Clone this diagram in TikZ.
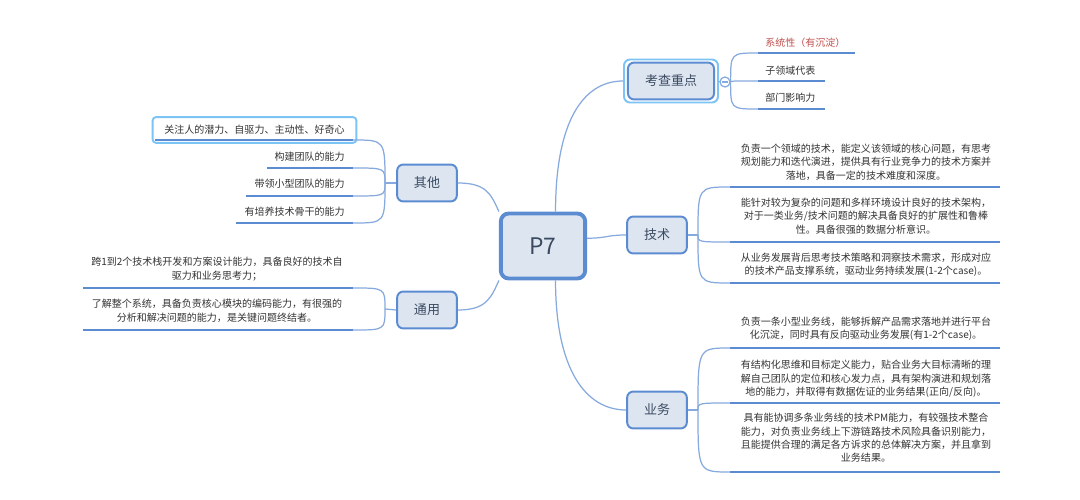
\documentclass[tikz,border=0pt]{standalone}
\usepackage{fontspec}
\usepackage{tikz}
\usetikzlibrary{calc}
\newfontfamily\cjk{Noto Sans CJK SC}
\definecolor{BoxFill}{HTML}{DDE5F1}
\definecolor{BoxLine}{HTML}{5B8BD1}
\definecolor{SelLine}{HTML}{7CC4F6}
\definecolor{LinkBlue}{HTML}{86A9DE}
\definecolor{InkGray}{HTML}{333333}
\definecolor{TopicInk}{HTML}{3A4A60}
\definecolor{NoteRed}{HTML}{C0504D}
\tikzset{
  root/.style={draw=BoxLine, line width=2.2pt, fill=BoxFill, rounded corners=4.5pt, minimum width=48pt, minimum height=37pt, font=\cjk\fontsize{13}{15}\selectfont, text=TopicInk},
  topic/.style={draw=BoxLine, line width=1.1pt, fill=BoxFill, rounded corners=3.5pt, minimum width=34pt, minimum height=21pt, font=\cjk\fontsize{7.4}{9}\selectfont, text=TopicInk},
  selbox/.style={draw=SelLine, line width=1.1pt, rounded corners=3.5pt, minimum width=53.5pt, minimum height=24.5pt},
  leaf/.style={font=\cjk\fontsize{5.7}{7.65}\selectfont, text=InkGray, align=center, inner sep=0pt},
  uline/.style={draw=BoxLine, line width=1.6pt},
  link/.style={draw=LinkBlue, line width=0.7pt}
}
\begin{document}
\begin{tikzpicture}[x=0.02cm, y=-0.02cm]
    \fill[white] (0,0) rectangle (1080,500);
    \useasboundingbox (0,0) rectangle (1080,500);

    % main topics
    \node (p7) [root] at (543,246) {P7};
    \node (kcsel) [selbox] at (671,81) {};
    \node (kczd) [topic, minimum width=49pt] at (671,81) {考查重点};
    \node (jsbox) [topic] at (657,235) {技术};
    \node (ywbox) [topic] at (657,410) {业务};
    \node (qtbox) [topic] at (427,183) {其他};
    \node (tybox) [topic] at (427,310) {通用};

    \draw[link] (p7.70) .. controls +(0,-90) and +(-40,0) .. (kcsel.west);
    \draw[link] (p7.10) .. controls +(20,0) and +(-20,0) .. (jsbox.west);
    \draw[link] (p7.-70) .. controls +(0,90) and +(-40,0) .. (ywbox.west);
    \draw[link] (qtbox.east) .. controls +(28,0) and +(-8,-18) .. (p7.north west);
    \draw[link] (tybox.east) .. controls +(28,0) and +(-8,18) .. (p7.south west);

    % 考查重点
    \node (kcirc) [circle, draw=LinkBlue, line width=0.7pt, fill=white, minimum size=5.7pt, inner sep=0pt] at (725,82) {};
    \draw[link] (kcsel.east) -- (kcirc.west);
    \draw[link] ([xshift=-1.8pt]kcirc.center) -- ([xshift=1.8pt]kcirc.center);
    \node (kc1) [leaf, anchor=west, text=NoteRed] at (765,43) {系统性（有沉淀）};
    \node (kc2) [leaf, anchor=west] at (765,71) {子领域代表};
    \node (kc3) [leaf, anchor=west] at (765,98) {部门影响力};
    \foreach \i/\y/\e in {1/53/855, 2/81/825, 3/109/825} {
        \coordinate (kcu\i) at (758,\y);
        \draw[uline] (kcu\i) -- (\e,\y);
        \draw[link] (kcirc.east) .. controls (kcirc.east |- kcu\i) .. (kcu\i);
    }

    % 技术
    \coordinate (jsb) at (698,235);
    \draw[link] (jsbox.east) -- (jsb);
    \node (js1) [leaf] at (866,162) {负责一个领域的技术，能定义该领域的核心问题，有思考\\规划能力和迭代演进，提供具有行业竞争力的技术方案并\\落地，具备一定的技术难度和深度。};
    \node (js2) [leaf] at (866,216) {能针对较为复杂的问题和多样环境设计良好的技术架构，\\对于一类业务/技术问题的解决具备良好的扩展性和鲁棒\\性。具备很强的数据分析意识。};
    \node (js3) [leaf] at (866,265) {从业务发展背后思考技术策略和洞察技术需求，形成对应\\的技术产品支撑系统，驱动业务持续发展(1-2个case)。};
    \foreach \i/\y in {1/187, 2/242, 3/283} {
        \coordinate (jsu\i) at (730,\y);
        \draw[uline] (jsu\i) -- (1000,\y);
        \draw[link] (jsb) .. controls (jsb |- jsu\i) .. (jsu\i);
    }

    % 业务
    \coordinate (ywb) at (698,410);
    \draw[link] (ywbox.east) -- (ywb);
    \node (yw1) [leaf] at (866,329) {负责一条小型业务线，能够拆解产品需求落地并进行平台\\化沉淀，同时具有反向驱动业务发展(有1-2个case)。};
    \node (yw2) [leaf] at (866,379) {有结构化思维和目标定义能力，贴合业务大目标清晰的理\\解自己团队的定位和核心发力点，具有架构演进和规划落\\地的能力，并取得有数据佐证的业务结果(正向/反向)。};
    \node (yw3) [leaf] at (866,438) {具有能协调多条业务线的技术PM能力，有较强技术整合\\能力，对负责业务线上下游链路技术风险具备识别能力，\\且能提供合理的满足各方诉求的总体解决方案，并且拿到\\业务结果。};
    \foreach \i/\y in {1/348, 2/403, 3/472} {
        \coordinate (ywu\i) at (730,\y);
        \draw[uline] (ywu\i) -- (1000,\y);
        \draw[link] (ywb) .. controls (ywb |- ywu\i) .. (ywu\i);
    }

    % 其他
    \coordinate (qtb) at (385,183);
    \draw[link] (qtb) -- (qtbox.west);
    \node (qt1) [leaf, draw=SelLine, line width=1.1pt, rounded corners=2pt, fill=white, minimum width=116pt, minimum height=14.7pt] at (254.5,130) {关注人的潜力、自驱力、主动性、好奇心};
    \node (qt2) [leaf, anchor=east] at (345,157) {构建团队的能力};
    \node (qt3) [leaf, anchor=east] at (345,184) {带领小型团队的能力};
    \node (qt4) [leaf, anchor=east] at (345,212) {有培养技术骨干的能力};
    \foreach \i/\y/\s in {1/140/155, 2/168/267, 3/196/246, 4/223/236} {
        \coordinate (qtu\i) at (353,\y);
        \draw[uline] (\s,\y) -- (qtu\i);
        \draw[link] (qtu\i) .. controls (qtb |- qtu\i) .. (qtb);
    }

    % 通用
    \coordinate (tyb) at (385,309);
    \draw[link] (tyb) -- (tybox.west);
    \node (ty1) [leaf] at (217,269) {跨1到2个技术栈开发和方案设计能力，具备良好的技术自\\驱力和业务思考力；};
    \node (ty2) [leaf] at (217,311) {了解整个系统，具备负责核心模块的编码能力，有很强的\\分析和解决问题的能力，是关键问题终结者。};
    \foreach \i/\y in {1/288, 2/330} {
        \coordinate (tyu\i) at (353,\y);
        \draw[uline] (83,\y) -- (tyu\i);
        \draw[link] (tyu\i) .. controls (tyb |- tyu\i) .. (tyb);
    }
\end{tikzpicture}
\end{document}
